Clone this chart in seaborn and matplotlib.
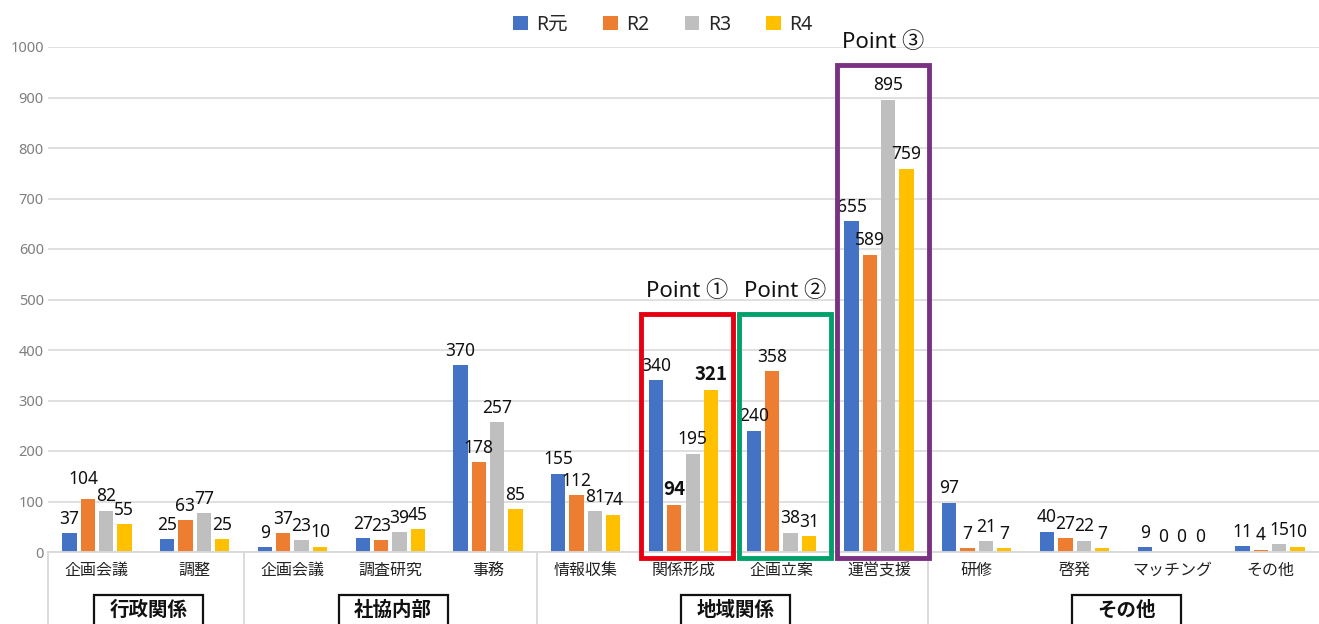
import numpy as np
import pandas as pd
import matplotlib
matplotlib.use("Agg")
import matplotlib.pyplot as plt
import matplotlib.transforms as mtransforms
from matplotlib.patches import Rectangle
import seaborn as sns

# ---------------- data ----------------
groups = ['行政関係', '行政関係', '社協内部', '社協内部', '社協内部',
          '地域関係', '地域関係', '地域関係', '地域関係',
          'その他', 'その他', 'その他', 'その他']
categories = ['企画会議', '調整', '企画会議', '調査研究', '事務',
              '情報収集', '関係形成', '企画立案', '運営支援',
              '研修', '啓発', 'マッチング', 'その他']
years = ['R元', 'R2', 'R3', 'R4']
r_gan = [37, 25, 9, 27, 370, 155, 340, 240, 655, 97, 40, 9, 11]
r2 = [104, 63, 37, 23, 178, 112, 94, 358, 589, 7, 27, 0, 4]
r3 = [82, 77, 23, 39, 257, 81, 195, 38, 895, 21, 22, 0, 15]
r4 = [55, 25, 10, 45, 85, 74, 321, 31, 759, 7, 7, 0, 10]
group_names = ['行政関係', '社協内部', '地域関係', 'その他']
point_labels = ['Point ①', 'Point ②', 'Point ③']
y_ticks = [0, 100, 200, 300, 400, 500, 600, 700, 800, 900, 1000]

series = {'R元': r_gan, 'R2': r2, 'R3': r3, 'R4': r4}
keys = [f"{g}・{c}" for g, c in zip(groups, categories)]
rows = []
for yr in years:
    for k, v in zip(keys, series[yr]):
        rows.append({'key': k, 'year': yr, 'value': v})
df = pd.DataFrame(rows)

colors = ['#4472C4', '#ED7D31', '#BFBFBF', '#FFC000']

# ---------------- style ----------------
sns.set_theme(style='white')
plt.rcParams['font.family'] = ['Noto Sans', 'Noto Sans CJK JP', 'DejaVu Sans']

W, H = 1319, 624
fig = plt.figure(figsize=(W / 100, H / 100), dpi=100)
ax = fig.add_axes([48 / W, 72 / H, (W - 48) / W, (552 - 47) / H])

sns.barplot(data=df, x='key', y='value', hue='year', order=keys,
            hue_order=years, palette=colors, saturation=1, width=0.75,
            gap=0.22, linewidth=0, ax=ax, errorbar=None)

ax.set_xlim(-0.5, len(keys) - 0.5)
ax.set_ylim(0, 1000)
ax.set_yticks(y_ticks)
ax.set_yticklabels([str(t) for t in y_ticks], fontsize=10.5, color='#7F7F7F')
ax.yaxis.grid(True, color='#DDDDDD', linewidth=1.3)
ax.set_axisbelow(True)
ax.set_xlabel('')
ax.set_ylabel('')
ax.set_xticks(range(len(keys)))
ax.set_xticklabels(categories, fontsize=11.5, color='#222222')
ax.tick_params(axis='x', length=0, pad=8)
ax.tick_params(axis='y', length=0, pad=3)
for s in ['top', 'right', 'left']:
    ax.spines[s].set_visible(False)
ax.spines['bottom'].set_color('#D9D9D9')
ax.spines['bottom'].set_linewidth(1.3)

# data labels
for yi, cont in enumerate(ax.containers):
    texts = ax.bar_label(cont, fmt='%d', padding=4, fontsize=12.5, color='#111111')
    for ci, t in enumerate(texts):
        if categories[ci] == '関係形成' and years[yi] in ('R2', 'R4'):
            t.set_fontfamily(['Noto Sans CJK JP', 'DejaVu Sans'])
            t.set_fontweight('bold')
            t.set_fontsize(13.5)
        # lift the tallest label of the first group like the reference
        if ci == 0 and years[yi] == 'R2':
            t.xyann = (-3, 8)

# legend
handles, labels = ax.get_legend_handles_labels()
if ax.legend_ is not None:
    ax.legend_.remove()
fig.legend(handles, labels, loc='center', bbox_to_anchor=(663 / W, 1 - 25 / H),
           ncol=4, frameon=False, fontsize=14, handlelength=0.75,
           handleheight=0.75, handletextpad=0.45, columnspacing=1.8)

# group separators below the axis
trans = mtransforms.blended_transform_factory(ax.transData, ax.transAxes)
for xb in [-0.5, 1.5, 4.5, 8.5]:
    ax.plot([xb, xb], [0, -0.2], transform=trans, color='#D9D9D9',
            lw=1.3, clip_on=False)

group_centers = []
idx = 0
for g in group_names:
    n = groups.count(g)
    group_centers.append(idx + (n - 1) / 2)
    idx += n
for g, cx in zip(group_names, group_centers):
    cx = cx + 0.03
    ax.add_patch(Rectangle((cx - 0.557, -0.2), 1.114, 0.2 - 0.086,
                           transform=trans, fill=False, edgecolor='#111111',
                           lw=1.6, clip_on=False))
    ax.text(cx, -0.117, g, transform=trans, ha='center', va='center',
            fontsize=14, fontweight='bold', color='#111111')

# highlight boxes
box_specs = [  # (category index, color, top value)
    (6, '#E60012', 471),
    (7, '#00A06A', 471),
    (8, '#7B3181', 964),
]
for (ci, col, top), lab in zip(box_specs, point_labels):
    x0 = ci - 0.43
    ax.add_patch(Rectangle((x0, -12), 0.94, top + 12, fill=False,
                           edgecolor=col, lw=3.5, clip_on=False, zorder=5))
    ax.text(ci + 0.04, top + 45, lab, ha='center', va='center',
            fontsize=16, color='#111111', clip_on=False)

fig.savefig('out.png', dpi=100)
